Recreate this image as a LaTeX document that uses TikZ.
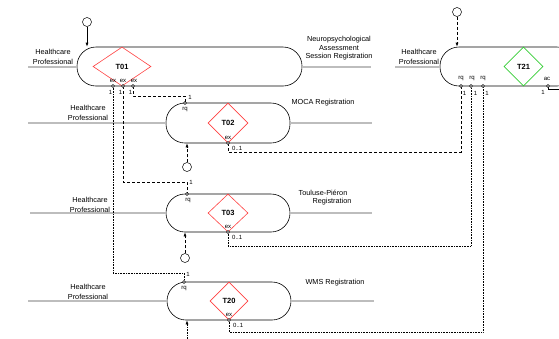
\documentclass[tikz,border=0pt]{standalone}
\usepackage{fontspec}
\setmainfont{Liberation Sans}
\usetikzlibrary{shapes.geometric,arrows.meta}
\definecolor{lanegray}{HTML}{BDBDBD}
\definecolor{dred}{HTML}{FF4040}
\definecolor{dgreen}{HTML}{33CC33}
\begin{document}
\begin{tikzpicture}[x=1pt,y=-1pt,
 every node/.style={font=\fontsize{7.3}{10}\selectfont, inner sep=0pt},
 lane/.style={lanegray, line width=2pt},
 task/.style={draw, rounded corners=19pt, line width=0.6pt},
 dia/.style={draw=dred, shape=diamond, line width=0.6pt, font=\fontsize{7.5}{9}\selectfont\bfseries},
 port/.style={circle, draw, fill=white, minimum size=3pt, line width=0.5pt},
 small/.style={font=\fontsize{6}{7}\selectfont},
 conn/.style={densely dashed, line width=0.6pt},
 dconn/.style={densely dotted, line width=0.6pt},
 start/.style={circle, draw, minimum size=9pt, line width=0.5pt},
 arr/.style={-{Latex[length=4pt,width=3pt]}, line width=0.6pt}]
\useasboundingbox (0,0) rectangle (559,338);
\clip (0,0) rectangle (559,338);
% task shapes
\node[task, minimum width=225, minimum height=39] (t01) at (189.5,66.5) {};
\node[task, minimum width=124, minimum height=40] (t02) at (228,123) {};
\node[task, minimum width=124, minimum height=38] (t03) at (228,213) {};
\node[task, minimum width=124, minimum height=38] (t20) at (229,301) {};
\node[task, minimum width=136, minimum height=39] (t21) at (508,66.5) {};
% lanes
\draw[lane] (t01.west) -- ++(-49,0);
\draw[lane] (t01.east) -- ++(69,0);
\draw[lane] (t02.west) -- ++(-138,0);
\draw[lane] (t02.east) -- ++(82,0);
\draw[lane] (t03.west) -- ++(-136,0);
\draw[lane] (t03.east) -- ++(82,0);
\draw[lane] (t20.west) -- ++(-139,0);
\draw[lane] (t20.east) -- ++(83,0);
\draw[lane] (t21.west) -- ++(-45,0);
% diamonds
\node[dia, minimum width=58, minimum height=39] (d01) at (122,66.5) {T01};
\node[dia, minimum width=40, minimum height=40] (d02) at (228,123) {T02};
\node[dia, minimum width=40, minimum height=38] (d03) at (228,213) {T03};
\node[dia, minimum width=38, minimum height=38] (d20) at (229,301) {T20};
\node[dia, draw=dgreen, minimum width=39, minimum height=39] (d21) at (523.5,66.5) {T21};
% role labels
\node[align=center] (h01) at (53,57) {Healthcare\\Professional};
\node[align=center] (h02) at (88,113) {Healthcare\\Professional};
\node[align=center] (h03) at (90,204.5) {Healthcare\\Professional};
\node[align=center] (h20) at (88,291.5) {Healthcare\\Professional};
\node[align=center] (h21) at (419,57) {Healthcare\\Professional};
% transaction names
\node[align=center, font=\fontsize{7.3}{8.5}\selectfont] (n01) at (339,48.5) {Neuropsychological\\Assessment\\Session Registration};
\node (n02) at (323,103) {MOCA Registration};
\node (n03a) at (323,193) {Touluse-Piéron};
\node (n03b) at (332,202) {Registration};
\node (n20) at (335,283) {WMS Registration};
% port positions
\coordinate (e1) at (113,86);
\coordinate (e2) at (123,86);
\coordinate (e3) at (133,86);
\coordinate (r2) at (185,103);
\coordinate (r3) at (187,194);
\coordinate (r20) at (184,282);
\coordinate (x2) at (228,143);
\coordinate (x3) at (228,232);
\coordinate (x20) at (229,320);
\coordinate (q1) at (461,86);
\coordinate (q2) at (471,86);
\coordinate (q3) at (483,86);
\coordinate (ac) at (548,86);
\coordinate (out) at (565,89);
% connectors
\draw[conn] (e3) -- ++(0,10) -| (r2);
\draw[conn] (e2) -- ++(0,96) -| (r3);
\draw[dconn] (e1) -- ++(0,187) -| (r20);
\draw[conn] (x2) -- ++(0,9) -| (q1);
\draw[dconn] (x3) -- ++(0,14) -| (q2);
\draw[dconn] (x20) -- ++(0,12) -| (q3);
\draw[line width=0.5pt] (ac) |- (out);
% ports
\foreach \p in {e1,e2,e3,r2,r3,r20,x2,x3,x20,q1,q2,q3,ac}
  \node[port] (p\p) at (\p) {};
% start circles and arrows
\node[start] (s01) at (87,22) {};
\draw[arr] (s01) -- (s01 |- t01.north);
\node[start] (s21) at (457,12) {};
\draw[arr, densely dashed] (s21) -- (s21 |- t21.north);
\node[start] (s02) at (187,167) {};
\draw[arr, densely dashed] (s02) -- (s02 |- t02.south);
\node[start] (s03) at (185,258) {};
\draw[arr, densely dashed] (s03) -- (s03 |- t03.south);
\coordinate (b20) at (187,342);
\draw[arr, densely dotted] (b20) -- (b20 |- t20.south);
% small labels
\node[small] at (113,81) {ex};
\node[small] at (123,81) {ex};
\node[small] at (134,81) {ex};
\node[small] at (110.5,92.5) {1};
\node[small] at (120.5,92.5) {1};
\node[small] at (130.5,92.5) {1};
\node[small] at (190,97) {1};
\node[small] at (185,109.5) {rq};
\node[small] at (191,182) {1};
\node[small] at (188,200.5) {rq};
\node[small] at (188,274) {1};
\node[small] at (184,288.5) {rq};
\node[small] at (228,137.5) {ex};
\node[small, anchor=west] at (232,148) {0..1};
\node[small] at (228,226.5) {ex};
\node[small, anchor=west] at (232,237) {0..1};
\node[small] at (229,314.5) {ex};
\node[small, anchor=west] at (233,325) {0..1};
\node[small] at (461,79) {rq};
\node[small] at (472,79) {rq};
\node[small] at (483,79) {rq};
\node[small] at (464.5,93) {1};
\node[small] at (475.5,93) {1};
\node[small] at (487,93) {1};
\node[small] at (547,79) {ac};
\node[small] at (543,92) {1};
\end{tikzpicture}
\end{document}
